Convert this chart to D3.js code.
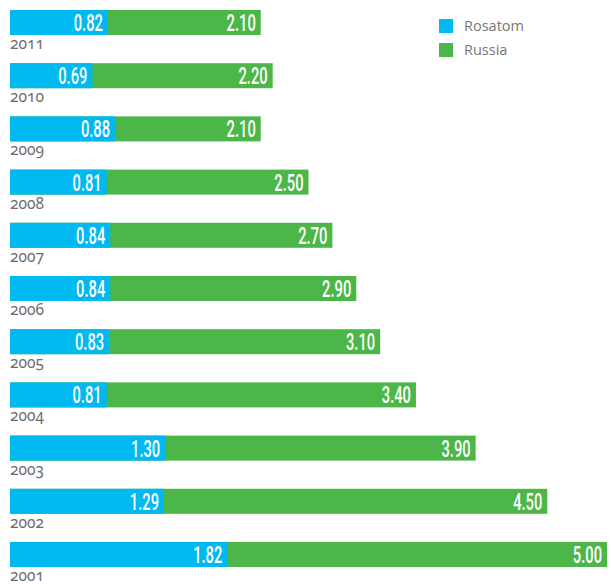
<!DOCTYPE html>
<html>
<head>
<meta charset="utf-8">
<script src="https://cdn.jsdelivr.net/npm/d3@7"></script>
<style>
  body { margin: 0; background: #fff; }
  .val { font-family: Roboto, "Liberation Sans", sans-serif; font-weight: 500; font-size: 23px; fill: #fff; }
  .year { font-family: "Noto Sans", Lato, sans-serif; font-size: 15.5px; fill: #6d6d6d; font-variant-numeric: oldstyle-nums; }
  .leg { font-family: "Open Sans", "Noto Sans", sans-serif; font-size: 14.5px; fill: #777; }
</style>
</head>
<body>
<script>
width = 611
height = 584

const years = ["2011","2010","2009","2008","2007","2006","2005","2004","2003","2002","2001"];
const rosatom = [0.82, 0.69, 0.88, 0.81, 0.84, 0.84, 0.83, 0.81, 1.30, 1.29, 1.82];
const russia = [2.10, 2.20, 2.10, 2.50, 2.70, 2.90, 3.10, 3.40, 3.90, 4.50, 5.00];
const seriesNames = ["Rosatom", "Russia"];
const colors = ["#00b9f1", "#4cb748"];

const rows = years.map((y, i) => ({year: y, rosatom: rosatom[i], russia: russia[i]}));

const svg = d3.select("body")
  .append("svg")
    .attr("width", width)
    .attr("height", height);

const x = d3.scaleLinear().domain([0, 5]).range([10, 607]);
const y = d3.scaleBand().domain(years).range([10, 567]).paddingInner(0.53).paddingOuter(0);

const g = svg.append("g")
  .selectAll("g")
  .data(rows)
  .join("g")
    .attr("transform", d => `translate(0,${y(d.year)})`);

// green (Russia) goes the full length, blue drawn on top from the same origin
g.append("rect")
  .attr("x", x(0))
  .attr("width", d => x(d.russia) - x(0))
  .attr("height", y.bandwidth())
  .attr("fill", colors[1]);

g.append("rect")
  .attr("x", x(0))
  .attr("width", d => x(d.rosatom) - x(0))
  .attr("height", y.bandwidth())
  .attr("fill", colors[0]);

function valueLabel(sel, key) {
  sel.append("text")
    .attr("class", "val")
    .attr("text-anchor", "end")
    .attr("transform", d => `translate(${x(d[key]) - 5},${y.bandwidth() / 2 + 8.5}) scale(0.64,1)`)
    .text(d => d[key].toFixed(2));
}
valueLabel(g, "rosatom");
valueLabel(g, "russia");

g.append("text")
  .attr("class", "year")
  .attr("x", x(0))
  .attr("y", y.bandwidth() + 14)
  .text(d => d.year);

const legend = svg.append("g")
  .selectAll("g")
  .data(seriesNames)
  .join("g")
    .attr("transform", (d, i) => `translate(439,${19 + i * 24})`);

legend.append("rect")
  .attr("width", 14)
  .attr("height", 14)
  .attr("fill", (d, i) => colors[i]);

legend.append("text")
  .attr("class", "leg")
  .attr("x", 25)
  .attr("y", 12)
  .text(d => d);
</script>
</body>
</html>
